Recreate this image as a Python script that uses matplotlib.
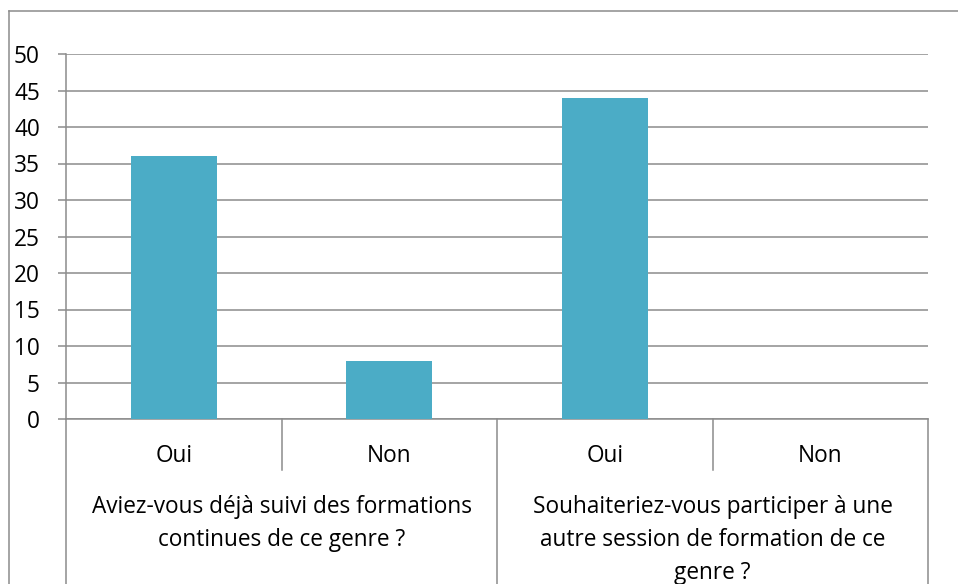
import matplotlib
matplotlib.use("Agg")
import matplotlib.pyplot as plt
from matplotlib.lines import Line2D

categories = ["Oui", "Non", "Oui", "Non"]
values = [36, 8, 44, 0]
groups = [
    ["Aviez-vous déjà suivi des formations", "continues de ce genre ?"],
    ["Souhaiteriez-vous participer à une", "autre session de formation de ce", "genre ?"],
]
yticks = [0, 5, 10, 15, 20, 25, 30, 35, 40, 45, 50]

W, H = 958, 584
fig = plt.figure(figsize=(W / 100, H / 100), dpi=100)
plt.rcParams['font.family'] = ['Open Sans', 'DejaVu Sans']
FS = 16.3
GRAY = "#8c8c8c"
BAR = "#4BACC6"

L, R, T, B = 66, 928, 54, 419
ax = fig.add_axes([L / W, 1 - B / H, (R - L) / W, (B - T) / H])

x = list(range(len(categories)))
ax.bar(x, values, width=0.4, color=BAR, zorder=3)
ax.set_xlim(-0.5, len(categories) - 0.5)
ax.set_ylim(0, 50)
ax.set_yticks(yticks)
ax.set_yticklabels([str(v) for v in yticks], fontsize=FS)
ax.tick_params(axis='y', length=5.8, width=1.1, color=GRAY, pad=13)
ax.set_xticks([])
ax.grid(axis='y', color=GRAY, linewidth=1.1, zorder=0)
for s in ['top', 'right']:
    ax.spines[s].set_visible(False)
for s in ['left', 'bottom']:
    ax.spines[s].set_color(GRAY)
    ax.spines[s].set_linewidth(1.1)

ah = B - T
tr = ax.get_xaxis_transform()
def ya(py):
    return (B - py) / ah

# category labels
for i, c in enumerate(categories):
    ax.text(i, ya(462), c, transform=tr, ha='center', va='baseline', fontsize=FS)

# separators
n = len(categories)
for k in range(n + 1):
    xp = k - 0.5
    if k % 2 == 1:
        y1 = ya(470)
    else:
        y1 = ya(590)
    ax.add_line(Line2D([xp, xp], [0, y1], transform=tr, color=GRAY, lw=1.1, clip_on=False))

# group labels
for g, lines in enumerate(groups):
    cx = 2 * g + 0.5
    for j, line in enumerate(lines):
        ax.text(cx, ya(513 + 33 * j), line, transform=tr, ha='center', va='baseline', fontsize=FS)

# outer border
fig.add_artist(Line2D([9 / W, 9 / W], [0, 1 - 11 / H], transform=fig.transFigure, color=GRAY, lw=1.1))
fig.add_artist(Line2D([9 / W, 1], [1 - 11 / H, 1 - 11 / H], transform=fig.transFigure, color=GRAY, lw=1.1))

fig.savefig("out.png", dpi=100)
